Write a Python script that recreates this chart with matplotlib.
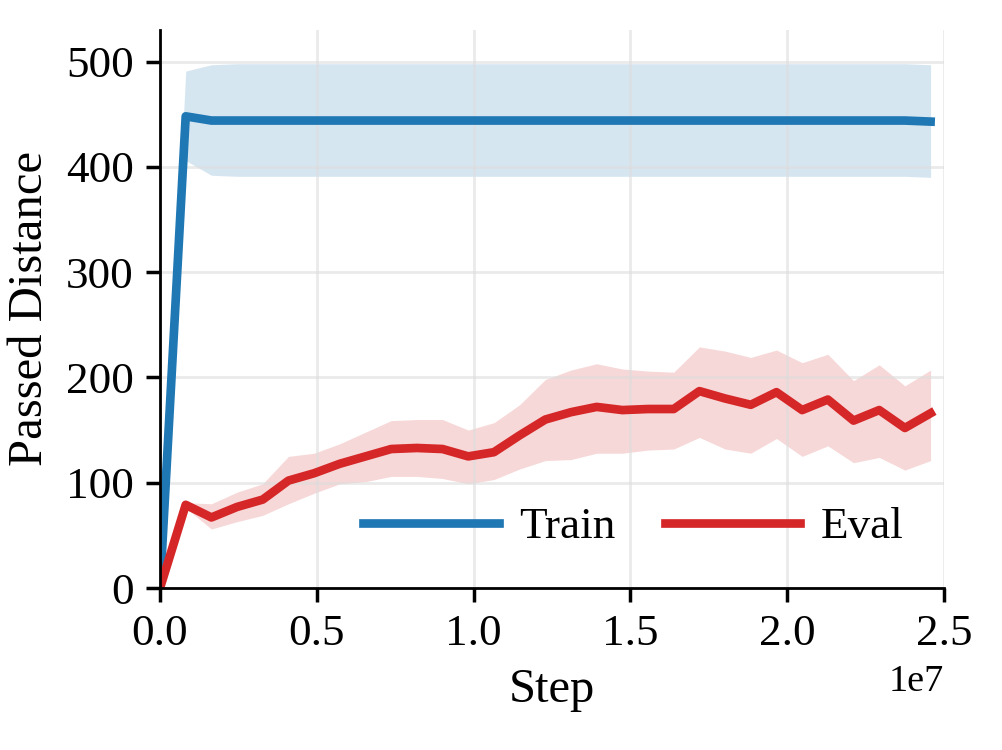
import numpy as np
import matplotlib
matplotlib.use("Agg")
import matplotlib.pyplot as plt

# evaluation every 819200 steps
steps = np.arange(31) * 819200

train_mean = [0, 448, 444, 444, 444, 444, 444, 444, 444, 444, 444, 444, 444, 444,
              444, 444, 444, 444, 444, 444, 444, 444, 444, 444, 444, 444, 444,
              444, 444, 444, 443]
train_low = [0, 406, 392, 391, 391, 391, 391, 391, 391, 391, 391, 391, 391, 391,
             391, 391, 391, 391, 391, 391, 391, 391, 391, 391, 391, 391, 391,
             391, 391, 391, 390]
train_high = [0, 491, 497, 498, 498, 498, 498, 498, 498, 498, 498, 498, 498, 498,
              498, 498, 498, 498, 498, 498, 498, 498, 498, 498, 498, 498, 498,
              498, 498, 498, 497]

eval_mean = [0, 79, 67, 77, 84, 102, 109, 118, 125, 132, 133, 132, 125, 129,
             145, 160, 167, 172, 169, 170, 170, 187, 180, 174, 186, 169, 179,
             159, 169, 152, 166]
eval_low = [0, 76, 56, 63, 69, 80, 90, 99, 101, 106, 106, 104, 99, 103,
            113, 121, 122, 128, 128, 131, 132, 143, 132, 128, 142, 125, 135,
            119, 124, 112, 121]
eval_high = [0, 81, 80, 91, 99, 125, 128, 137, 148, 159, 160, 160, 150, 157,
             174, 198, 207, 213, 208, 206, 205, 229, 225, 219, 226, 214, 222,
             197, 212, 192, 207]

plt.rcParams['font.family'] = ['Liberation Serif', 'DejaVu Serif']

fig = plt.figure(figsize=(4.008, 3), dpi=250)
ax = fig.add_axes([0.1597, 0.216, 0.7823, 0.744])

ax.fill_between(steps, train_low, train_high, color='#1f77b4', alpha=0.18, lw=0)
ax.plot(steps, train_mean, color='#1f77b4', lw=2.5, label='Train')
ax.fill_between(steps, eval_low, eval_high, color='#d62728', alpha=0.18, lw=0)
ax.plot(steps, eval_mean, color='#d62728', lw=2.5, label='Eval')

ax.set_xlim(0, 2.5e7)
ax.set_ylim(0, 530)
ax.set_yticks([0, 100, 200, 300, 400, 500])
ax.set_xticks([0, 0.5e7, 1.0e7, 1.5e7, 2.0e7, 2.5e7])
ax.grid(True, color='#dddddd', lw=0.8, alpha=0.6)
ax.spines['top'].set_visible(False)
ax.spines['right'].set_visible(False)
ax.tick_params(labelsize=13, length=4, width=1)
ax.xaxis.get_offset_text().set_fontsize(11)
ax.set_xlabel('Step', fontsize=14)
ax.set_ylabel('Passed Distance', fontsize=14)
ax.legend(loc='lower right', ncol=2, frameon=False, fontsize=13,
          handlelength=3, handletextpad=0.45, columnspacing=1.1,
          bbox_to_anchor=(1.0, 0.0))

fig.savefig('out.png', dpi=250)
